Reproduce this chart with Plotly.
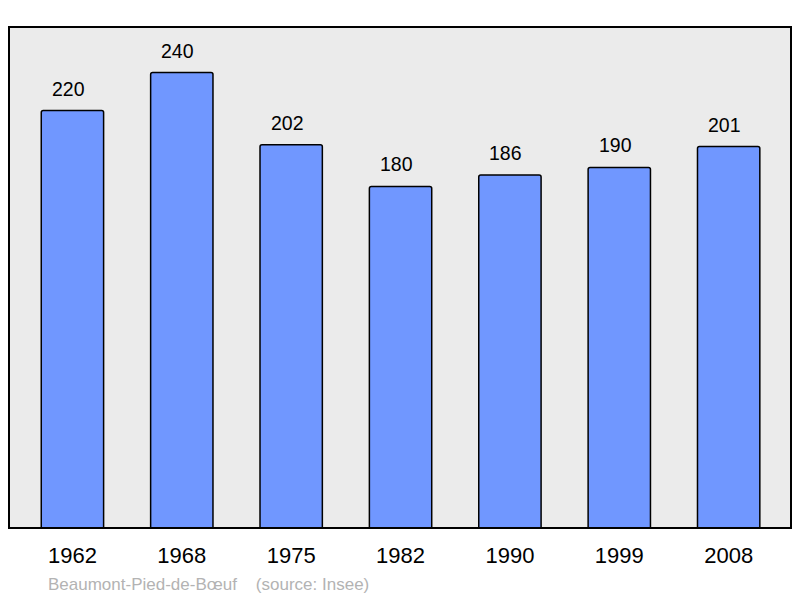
import plotly.graph_objects as go

years = ["1962", "1968", "1975", "1982", "1990", "1999", "2008"]
population = [220, 240, 202, 180, 186, 190, 201]
footer_text = "Beaumont-Pied-de-Bœuf    (source: Insee)"

fig = go.Figure()
fig.add_trace(go.Bar(
    x=years, y=population,
    marker=dict(color="#7097ff", line=dict(color="#000000", width=1.5)),
    width=0.57,
    hoverinfo="skip",
))

for i, v in enumerate(population):
    fig.add_annotation(x=i, y=v, text=str(v), showarrow=False,
                       yanchor="middle", yshift=22, xshift=-4,
                       font=dict(family="Liberation Sans, Arial", size=19.5, color="#000"))

fig.add_annotation(xref="paper", yref="paper", x=0.047, y=-0.112,
                   xanchor="left", yanchor="middle", showarrow=False,
                   text=footer_text,
                   font=dict(family="Liberation Sans, Arial", size=17, color="#b3b3b3"))

fig.add_shape(type="rect", xref="paper", yref="paper", x0=0, x1=1, y0=0, y1=1,
              line=dict(color="#000", width=2), layer="above")

fig.update_layout(
    width=792, height=590,
    margin=dict(l=1, r=9, t=19, b=70),
    paper_bgcolor="#ffffff", plot_bgcolor="#ebebeb",
    barcornerradius=2,
    showlegend=False,
    font=dict(family="Liberation Sans, Arial", color="#000"),
    xaxis=dict(type="category", range=[-0.58, 6.57], showgrid=False, zeroline=False,
               ticks="outside", ticklen=8, tickcolor="rgba(0,0,0,0)",
               tickfont=dict(size=22, color="#000")),
    yaxis=dict(range=[0, 264], showgrid=False, zeroline=False,
               showticklabels=False, ticks=""),
)

fig.write_html("out.html")
